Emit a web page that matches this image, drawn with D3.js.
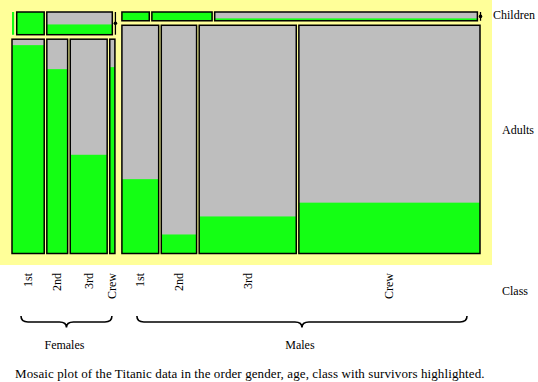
<!DOCTYPE html>
<html><head><meta charset="utf-8">
<script src="https://cdn.jsdelivr.net/npm/d3@7"></script>
<style>
body{margin:0;background:#fff}
svg{display:block}
text{font-family:"Liberation Serif","Times New Roman",serif;font-size:12px;fill:#000}
</style>
</head><body><svg width="538" height="382"></svg>
<script>
// ---------- data ----------
const genders = ["Females", "Males"];
const ages = ["Children", "Adults"];
const classes = ["1st", "2nd", "3rd", "Crew"];
const femaleChildTotal = [1, 13, 31, 0];
const femaleChildSurv  = [1, 13, 14, 0];
const femaleAdultTotal = [144, 93, 165, 23];
const femaleAdultSurv  = [140, 80, 76, 20];
const maleChildTotal   = [5, 11, 48, 0];
const maleChildSurv    = [5, 11, 13, 0];
const maleAdultTotal   = [175, 168, 462, 862];
const maleAdultSurv    = [57, 14, 75, 192];
const axisLabel = "Class";
const caption = "Mosaic plot of the Titanic data in the order gender, age, class with survivors highlighted.";

// ---------- layout / style ----------
const L = {x0: 12, x1: 480, y0: 12, y1: 253.5, gG: 7, gC: 2.6, gA: 4.5, bgW: 492, bgH: 265};
const C = {bg: "#ffff99", grey: "#bebebe", green: "#14ff14"};
const braceInset = [[9, 3], [15, 13]];

const totals = [[femaleChildTotal, femaleAdultTotal], [maleChildTotal, maleAdultTotal]];
const survs  = [[femaleChildSurv, femaleAdultSurv], [maleChildSurv, maleAdultSurv]];
const nGap = classes.length - 1;
const gTot = totals.map(g => d3.sum(g.flat()));
const grand = d3.sum(gTot);
const xs = d3.scaleLinear().domain([0, grand]).range([0, (L.x1 - L.x0) - L.gG - genders.length * nGap * L.gC]);

const svg = d3.select("svg");
svg.append("rect").attr("x", 0).attr("y", 0).attr("width", L.bgW).attr("height", L.bgH).attr("fill", C.bg);

const cells = [];
const gSpans = [];
let gx = L.x0;
genders.forEach((g, gi) => {
  const gw = xs(gTot[gi]) + nGap * L.gC;
  gSpans.push([gx, gx + gw]);
  const ys = d3.scaleLinear().domain([0, gTot[gi]]).range([0, (L.y1 - L.y0) - L.gA]);
  let y = L.y0;
  ages.forEach((a, ai) => {
    const row = totals[gi][ai];
    const rt = d3.sum(row);
    const h = ys(rt);
    const rs = d3.scaleLinear().domain([0, rt]).range([0, xs(gTot[gi])]);
    let x = gx;
    classes.forEach((c, ci) => {
      const w = rs(row[ci]);
      cells.push({g: gi, a: ai, c: ci, x, y, w, h, n: row[ci], s: survs[gi][ai][ci]});
      x += w + L.gC;
    });
    y += h + L.gA;
  });
  gx += gw + L.gG;
});

const gCells = svg.append("g");
cells.forEach(d => {
  if (d.n > 0) {
    gCells.append("rect").attr("x", d.x).attr("y", d.y).attr("width", d.w).attr("height", d.h).attr("fill", C.grey);
    const sh = d.h * d.s / d.n;
    gCells.append("rect").attr("x", d.x).attr("y", d.y + d.h - sh).attr("width", d.w).attr("height", sh).attr("fill", C.green);
    if (d.w >= 3) {
      gCells.append("rect").attr("x", d.x).attr("y", d.y).attr("width", d.w).attr("height", d.h)
        .attr("fill", "none").attr("stroke", "#000").attr("stroke-width", 1.5);
    }
  } else {
    const lx = d.x + 0.5;
    gCells.append("line").attr("x1", lx).attr("x2", lx).attr("y1", d.y).attr("y2", d.y + d.h)
      .attr("stroke", "#000").attr("stroke-width", 1.3);
    gCells.append("circle").attr("cx", lx).attr("cy", d.y + d.h / 2).attr("r", 1.8)
      .attr("fill", "#000");
  }
});

// class labels under adult cells
cells.filter(d => d.a === 1).forEach(d => {
  const cx = d.x + d.w / 2;
  svg.append("text").attr("transform", `translate(${cx + 4},273) rotate(-90)`)
    .attr("text-anchor", "end").text(classes[d.c]);
});

// row labels
svg.append("text").attr("x", L.bgW + 1).attr("y", 18.5).text(ages[0]);
svg.append("text").attr("x", L.bgW + 10).attr("y", 133.5).text(ages[1]);
svg.append("text").attr("x", L.bgW + 10).attr("y", 294.5).text(axisLabel);

// braces
function brace(a, b, yt, ym, yb) {
  const m = (a + b) / 2;
  return `M${a},${yt} Q${a},${ym} ${a + 7},${ym} L${m - 7},${ym} Q${m},${ym} ${m},${yb} Q${m},${ym} ${m + 7},${ym} L${b - 7},${ym} Q${b},${ym} ${b},${yt}`;
}
genders.forEach((g, gi) => {
  const a = gSpans[gi][0] + braceInset[gi][0];
  const b = gSpans[gi][1] - braceInset[gi][1];
  svg.append("path").attr("d", brace(a, b, 316, 322, 327.5)).attr("fill", "none")
    .attr("stroke", "#000").attr("stroke-width", 1.6);
  svg.append("text").attr("x", (a + b) / 2 - 2).attr("y", 349).attr("text-anchor", "middle").text(g);
});

svg.append("text").attr("x", 15).attr("y", 377.5)
  .style("font-size", "13px").style("letter-spacing", "0.1px").text(caption);
</script>
</body></html>
